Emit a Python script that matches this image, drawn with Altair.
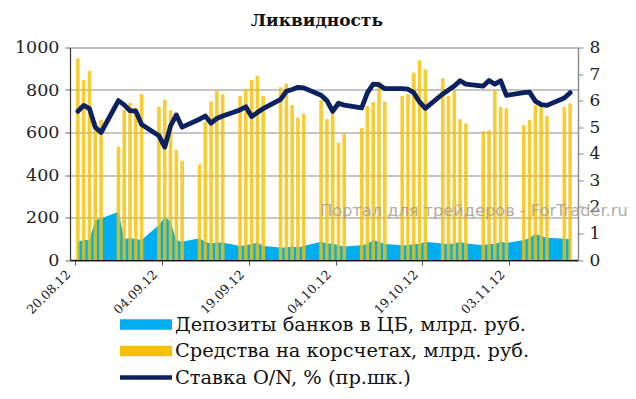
import json
import altair as alt
import pandas as pd

# ---------------- data ----------------
dates = [
    "2012-08-20", "2012-08-21", "2012-08-22", "2012-08-23", "2012-08-24",
    "2012-08-27", "2012-08-28", "2012-08-29", "2012-08-30", "2012-08-31",
    "2012-09-03", "2012-09-04", "2012-09-05", "2012-09-06", "2012-09-07",
    "2012-09-10", "2012-09-11", "2012-09-12", "2012-09-13", "2012-09-14",
    "2012-09-17", "2012-09-18", "2012-09-19", "2012-09-20", "2012-09-21",
    "2012-09-24", "2012-09-25", "2012-09-26", "2012-09-27", "2012-09-28",
    "2012-10-01", "2012-10-02", "2012-10-03", "2012-10-04", "2012-10-05",
    "2012-10-08", "2012-10-09", "2012-10-10", "2012-10-11", "2012-10-12",
    "2012-10-15", "2012-10-16", "2012-10-17", "2012-10-18", "2012-10-19",
    "2012-10-22", "2012-10-23", "2012-10-24", "2012-10-25", "2012-10-26",
    "2012-10-29", "2012-10-30", "2012-10-31", "2012-11-01", "2012-11-02",
    "2012-11-05", "2012-11-06", "2012-11-07", "2012-11-08", "2012-11-09",
    "2012-11-12", "2012-11-13",
]
# Средства на корсчетах, млрд. руб.
corr = [
    949, 847, 891, 650, 660,
    533, 706, 739, 719, 781,
    721, 755, 705, 518, 467,
    449, 650, 746, 798, 780,
    772, 803, 847, 866, 772,
    813, 831, 729, 670, 687,
    753, 662, 692, 552, 593,
    620, 725, 742, 840, 745,
    772, 781, 881, 940, 897,
    855, 772, 795, 662, 643,
    606, 610, 798, 720, 714,
    635, 659, 729, 721, 678,
    720, 737,
]
# Депозиты банков в ЦБ, млрд. руб.
dep = [
    86, 94, 94, 188, 195,
    227, 100, 102, 99, 94,
    165, 204, 180, 94, 86,
    102, 86, 78, 82, 82,
    66, 70, 75, 82, 66,
    59, 59, 63, 59, 66,
    86, 78, 78, 70, 63,
    70, 75, 94, 86, 75,
    70, 70, 75, 75, 86,
    78, 75, 78, 86, 78,
    70, 75, 75, 86, 80,
    94, 102, 123, 113, 105,
    100, 98,
]
# Ставка O/N, %
rate = [
    5.60, 5.82, 5.70, 5.00, 4.80,
    6.00, 5.84, 5.62, 5.60, 5.10,
    4.68, 4.25, 5.05, 5.46, 5.00,
    5.30, 5.42, 5.15, 5.33, 5.42,
    5.65, 5.77, 5.40, 5.55, 5.70,
    6.05, 6.35, 6.42, 6.50, 6.48,
    6.20, 6.00, 5.60, 5.90, 5.83,
    5.73, 6.30, 6.62, 6.60, 6.45,
    6.45, 6.43, 6.30, 5.95, 5.71,
    6.25, 6.40, 6.55, 6.75, 6.62,
    6.55, 6.76, 6.62, 6.75, 6.20,
    6.30, 6.32, 5.98, 5.85, 5.82,
    6.10, 6.30,
]
tick_days = [0, 15, 30, 45, 60, 75]
tick_labels = ["20.08.12", "04.09.12", "19.09.12", "04.10.12", "19.10.12", "03.11.12"]
left_ticks = [0, 200, 400, 600, 800, 1000]
right_ticks = [0, 1, 2, 3, 4, 5, 6, 7, 8]
series_names = [
    "Депозиты банков в ЦБ, млрд. руб.",
    "Средства на корсчетах, млрд. руб.",
    "Ставка O/N, % (пр.шк.)",
]
series_colors = ["#00AEEF", "#F5C000", "#0B2160"]
title_text = "Ликвидность"
watermark = "Портал для трейдеров - ForTrader.ru"

# ---------------- tables ----------------
start = pd.Timestamp("2012-08-20")
df = pd.DataFrame({"corr": corr, "dep": dep, "rate": rate})
df["day"] = [(pd.Timestamp(d) - start).days + 0.5 for d in dates]

SERIF = "DejaVu Serif"
W, H = 508, 212.5

label_expr = f"{json.dumps(tick_labels)}[indexof({json.dumps(tick_days)}, datum.value)]"

x_enc = alt.X(
    "day:Q",
    scale=alt.Scale(domain=[0, 86], nice=False, zero=False),
    axis=alt.Axis(
        values=tick_days, labelExpr=label_expr, title=None, grid=False,
        labelAngle=-45, labelAlign="right", labelBaseline="middle",
        labelFont=SERIF, labelFontSize=12.5, labelColor="#222",
        labelPadding=7, labelOffset=-7, tickSize=5, tickColor="#555",
        domainColor="#111", domainWidth=1.5, labelOverlap=False,
    ),
)

left_scale = alt.Scale(domain=[0, 1000], nice=False)

area = alt.Chart(df).mark_area(color=series_colors[0], opacity=1).encode(
    x=x_enc,
    y=alt.Y(
        "dep:Q", scale=left_scale,
        axis=alt.Axis(
            values=left_ticks, title=None, orient="left", grid=True, format="d",
            gridColor="#8c8c8c", gridWidth=1.2,
            labelFont=SERIF, labelFontSize=17.5, labelColor="#222",
            tickSize=5, tickColor="#666", labelPadding=6,
            domainColor="#333", domainWidth=1.2,
        ),
    ),
)

bars = alt.Chart(df).mark_bar(size=3.6, color=series_colors[1], opacity=0.8).encode(
    x=x_enc,
    y=alt.Y("corr:Q", scale=left_scale, axis=None),
)

line = alt.Chart(df).mark_line(
    color=series_colors[2], strokeWidth=4.8, strokeJoin="round", strokeCap="round"
).encode(
    x=x_enc,
    y=alt.Y(
        "rate:Q", scale=alt.Scale(domain=[0, 8], nice=False),
        axis=alt.Axis(
            values=right_ticks, title=None, orient="right", grid=False,
            labelFont=SERIF, labelFontSize=17, labelColor="#222",
            tickSize=5, tickColor="#888", labelPadding=6,
            domainColor="#8c8c8c", domainWidth=1.5,
        ),
    ),
)

wm = alt.Chart(pd.DataFrame({"t": [watermark]})).mark_text(
    align="left", baseline="middle", font="DejaVu Sans", fontSize=16.2,
    color="#a0a0a0", opacity=0.85,
).encode(text="t:N", x=alt.value(250), y=alt.value(163))

# legend swatches: path spans twice the nominal symbol box
rect_path = "M-2,-0.4H2V0.4H-2Z"
line_path = "M-2,-0.17H2V0.17H-2Z"
leg = dict(
    orient="none", legendX=63, legendY=264, title=None,
    symbolSize=676, symbolStrokeWidth=0, symbolOpacity=1,
    labelFont=SERIF, labelFontSize=19.4, labelColor="#111",
    labelOffset=16, labelLimit=700, rowPadding=3.5,
)
legend_layer = alt.Chart(pd.DataFrame({"series": series_names})).mark_point(
    filled=True, size=4
).encode(
    x=alt.value(12), y=alt.value(H - 4),
    color=alt.Color("series:N", scale=alt.Scale(domain=series_names, range=series_colors),
                    legend=alt.Legend(**leg)),
    shape=alt.Shape("series:N", scale=alt.Scale(domain=series_names,
                                                range=[rect_path, rect_path, line_path]),
                    legend=alt.Legend(**leg)),
)

chart = alt.layer(legend_layer, area, bars, line, wm).resolve_scale(
    y="independent"
).properties(
    width=W, height=H,
    title=alt.TitleParams(title_text, font=SERIF, fontWeight="bold", fontSize=17,
                          anchor="middle", offset=9, dx=-7, color="#111"),
    autosize=alt.AutoSizeParams(type="none"),
    padding={"left": 62, "top": 39.5, "right": 50, "bottom": 131},
).configure_view(stroke=None).configure(background="white")

chart.save("out.html", embed_options={"renderer": "svg", "actions": False})
